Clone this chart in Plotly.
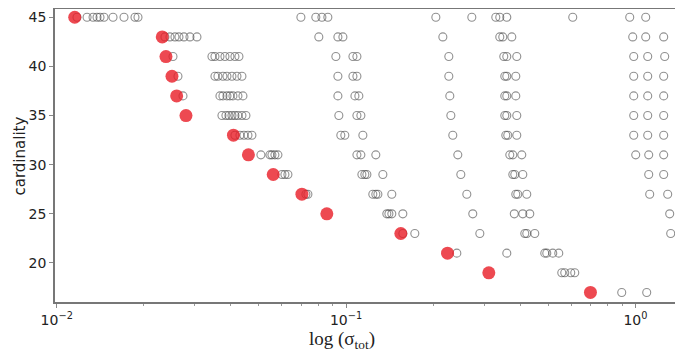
import plotly.graph_objects as go

cardinality = [45, 43, 41, 39, 37, 35, 33, 31, 29, 27, 25, 23, 21, 19, 17]

best_sigma = [0.01154, 0.02316, 0.02385, 0.02502, 0.02597, 0.02797, 0.04081, 0.04597,
              0.05600, 0.07036, 0.0858, 0.1546, 0.2242, 0.3114, 0.6991]

other_sigma = [
    [0.01175, 0.01273, 0.01335, 0.01378, 0.01411, 0.01457, 0.01565, 0.01708, 0.01864, 0.01909,
     0.0698, 0.0786, 0.0825, 0.0865, 0.2043, 0.2720, 0.3292, 0.3398, 0.3593, 0.6073, 0.9557, 1.0854],
    [0.02366, 0.02462, 0.02562, 0.02645, 0.02753, 0.02887, 0.03052,
     0.0805, 0.0937, 0.0975, 0.2160, 0.3398, 0.3480, 0.3739, 0.9788, 1.0854, 1.2524],
    [0.02522, 0.03439, 0.03522, 0.03665, 0.03814, 0.03968, 0.04129, 0.04263,
     0.0922, 0.1056, 0.1090, 0.2265, 0.3508, 0.3593, 0.3890, 0.9866, 1.1028, 1.2624],
    [0.02624, 0.03522, 0.03607, 0.03753, 0.03875, 0.04032, 0.04196, 0.04366,
     0.0937, 0.1056, 0.1090, 0.2265, 0.3536, 0.3593, 0.3860, 0.9866, 1.1028, 1.2524],
    [0.02731, 0.03665, 0.03753, 0.03875, 0.03968, 0.04064, 0.04229, 0.04401,
     0.0937, 0.1073, 0.1107, 0.2283, 0.3536, 0.3593, 0.3860, 0.9866, 1.1028, 1.2524],
    [0.03724, 0.03844, 0.03937, 0.04032, 0.04129, 0.04229, 0.04366, 0.04507,
     0.0944, 0.1090, 0.1125, 0.2302, 0.3536, 0.3593, 0.3890, 0.9866, 1.1028, 1.2524],
    [0.04129, 0.04297, 0.04436, 0.04580, 0.04727,
     0.0959, 0.0990, 0.1143, 0.2338, 0.3565, 0.3621, 0.3890, 0.9866, 1.1028, 1.2524],
    [0.05078, 0.05455, 0.05543, 0.05676, 0.05814,
     0.1090, 0.1125, 0.1267, 0.2433, 0.3680, 0.3769, 0.4048, 1.0024, 1.1116, 1.2524],
    [0.06001, 0.06146, 0.06295,
     0.1134, 0.1161, 0.1180, 0.1340, 0.2492, 0.3769, 0.3829, 0.4081, 1.1116, 1.2524],
    [0.07263, 0.0738,
     0.1237, 0.1267, 0.1288, 0.1439, 0.2614, 0.3860, 0.3921, 0.4212, 1.1204, 1.2929],
    [0.1383, 0.1406, 0.1439, 0.1571, 0.2741, 0.3814, 0.4081, 0.4314, 1.3137],
    [0.1571, 0.1728, 0.2899, 0.4146, 0.4212, 0.4489, 1.3241],
    [0.2414, 0.3593, 0.4861, 0.4939, 0.5180, 0.5433],
    [0.5565, 0.5699, 0.5977, 0.6171],
    [0.8968, 1.0941],
]

x_tick_vals = [0.01, 0.1, 1]
x_tick_text = ["10<sup>−2</sup>", "10<sup>−1</sup>", "10<sup>0</sup>"]
y_tick_vals = [20, 25, 30, 35, 40, 45]

gx, gy = [], []
for c, row in zip(cardinality, other_sigma):
    for v in row:
        gx.append(v)
        gy.append(c)

fig = go.Figure()
fig.add_trace(go.Scatter(
    x=gx, y=gy, mode="markers",
    marker=dict(symbol="circle-open", size=8, color="rgba(70,70,70,0.6)",
                line=dict(width=1.1, color="rgba(70,70,70,0.6)")),
    hoverinfo="x+y"))
fig.add_trace(go.Scatter(
    x=best_sigma, y=cardinality, mode="markers",
    marker=dict(symbol="circle", size=13, color="rgba(232,28,38,0.8)",
                line=dict(width=0)),
    hoverinfo="x+y"))

minor_vals = [m * 10 ** e for e in (-2, -1, 0) for m in range(2, 10)]

# the page body adds an 8px offset, so the figure is sized to fit the window
fig.update_layout(
    width=675, height=346,
    margin=dict(l=47, r=6, t=1, b=52),
    paper_bgcolor="white", plot_bgcolor="white",
    showlegend=False,
    font=dict(family="DejaVu Sans", size=13, color="#222"),
    xaxis=dict(
        type="log", range=[-2.006, 0.1437], automargin=False,
        tickmode="array", tickvals=x_tick_vals, ticktext=x_tick_text,
        ticks="outside", ticklen=4, tickwidth=1, tickcolor="#888",
        minor=dict(tickmode="array", tickvals=minor_vals, ticks="outside",
                   ticklen=2, tickwidth=1, tickcolor="#999", showgrid=False),
        showgrid=False, zeroline=False,
        showline=True, linecolor="#777", linewidth=1.5, mirror=True,
        tickfont=dict(family="DejaVu Sans", size=14, color="#222"),
    ),
    yaxis=dict(
        range=[16.03, 45.84], automargin=False,
        tickmode="array", tickvals=y_tick_vals,
        ticks="outside", ticklen=4, tickwidth=1, tickcolor="#888",
        showgrid=False, zeroline=False,
        showline=True, linecolor="#777", linewidth=1.5, mirror=True,
        tickfont=dict(family="DejaVu Sans", size=14, color="#222"),
    ),
    annotations=[
        dict(text="log (σ<sub>tot</sub>)", xref="paper", yref="paper",
             x=0.4614, y=-0.083, xanchor="center", yanchor="top", showarrow=False,
             font=dict(family="Liberation Serif", size=19, color="#222")),
        dict(text="cardinality", xref="paper", yref="paper",
             x=-0.0386, y=0.5, xanchor="right", yanchor="middle", showarrow=False,
             textangle=-90,
             font=dict(family="DejaVu Sans", size=15, color="#222")),
    ],
)

fig.write_html("out.html")
